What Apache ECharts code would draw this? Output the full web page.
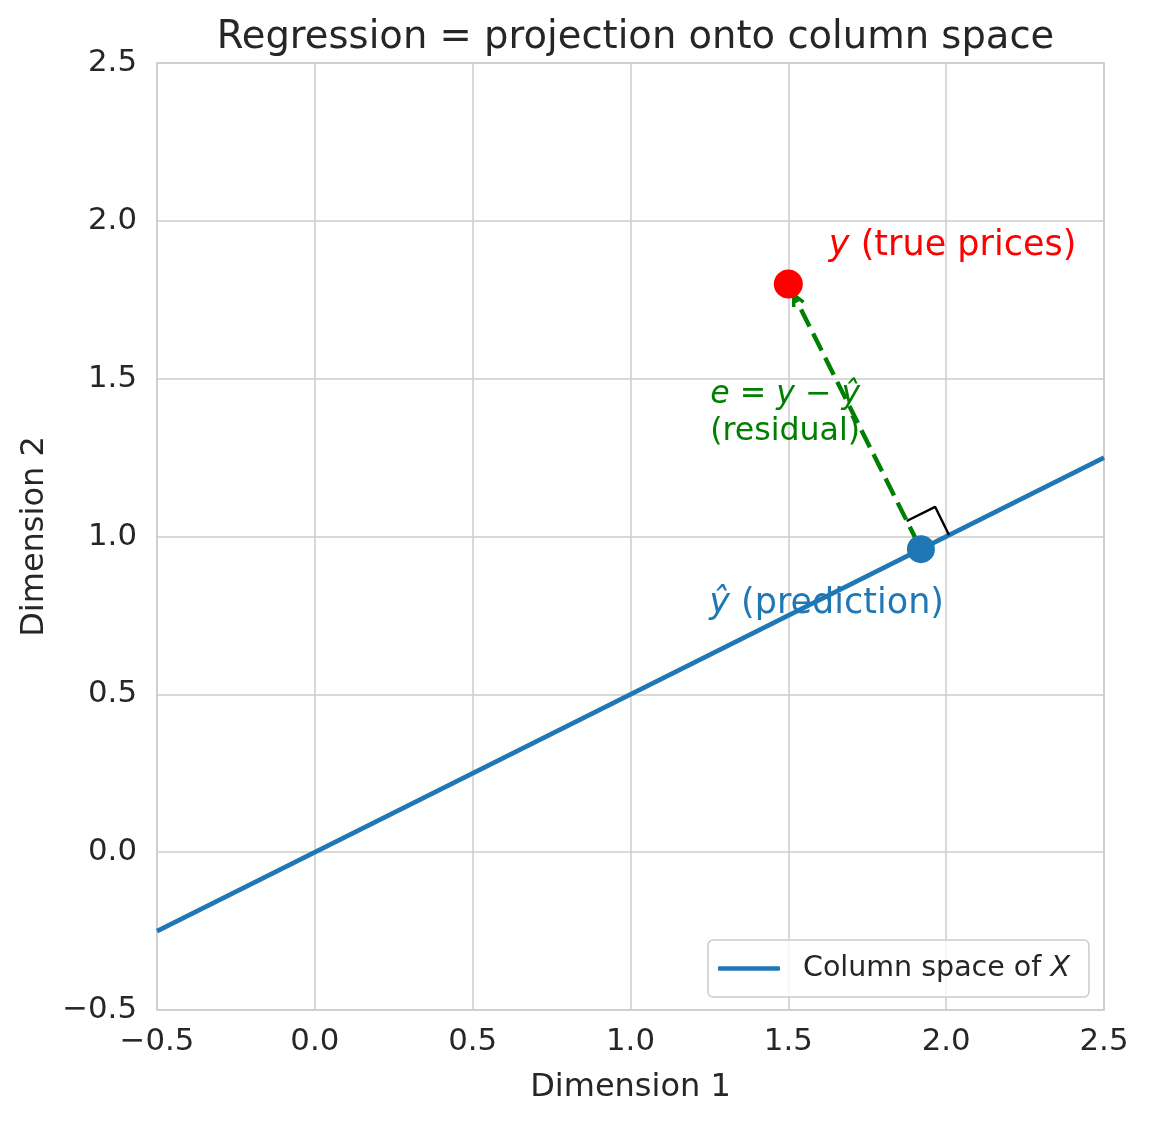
<!DOCTYPE html>
<html>
<head>
<meta charset="utf-8">
<script src="https://cdn.jsdelivr.net/npm/echarts@6/dist/echarts.min.js"></script>
<style>
html,body{margin:0;padding:0;background:#fff;}
#chart{width:1149px;height:1121px;}
</style>
</head>
<body>
<div id="chart"></div>
<script>
// ---- data ----
const axisMin = -0.5;
const axisMax = 2.5;
const tickInterval = 0.5;
const columnSpaceX = [-0.5, 2.5];
const columnSpaceY = [-0.25, 1.25];
const yTrue = [1.5, 1.8];
const yHat = [1.92, 0.96];
const rightAngleX = [1.875, 1.965, 2.009];
const rightAngleY = [1.049, 1.094, 1.005];
const labelTrueXY = [1.63, 1.92];
const labelResidualXY = [1.254, 1.39];
const labelPredXY = [1.251, 0.786];
const titleText = 'Regression = projection onto column space';
const xName = 'Dimension 1';
const yName = 'Dimension 2';
const legendName = 'Column space of X';

const FONT = 'DejaVu Sans';
const TXT = '#262626';
const fmtTick = v => (v < 0 ? '\u2212' : '') + Math.abs(v).toFixed(1);

const chart = echarts.init(document.getElementById('chart'), null, {renderer: 'canvas'});

const option = {
  animation: false,
  backgroundColor: '#ffffff',
  textStyle: {fontFamily: FONT},
  title: {
    text: titleText,
    left: 630.5,
    textAlign: 'center',
    top: 13,
    textStyle: {fontFamily: FONT, fontSize: 38.5, fontWeight: 'normal', color: TXT}
  },
  grid: {
    left: 157, right: 45, top: 63, bottom: 111,
    show: true, borderColor: '#cccccc', borderWidth: 1.5, backgroundColor: 'transparent'
  },
  legend: {
    data: [legendName],
    left: 708, top: 940,
    padding: [14, 19, 14, 10],
    backgroundColor: 'rgba(255,255,255,0.8)',
    borderColor: '#cccccc', borderWidth: 1.5, borderRadius: 5,
    icon: 'roundRect',
    itemWidth: 62, itemHeight: 4.5,
    formatter: () => '{a|Column space of }{b|X}',
    textStyle: {
      fontFamily: FONT, fontSize: 28.5, color: TXT,
      rich: {
        a: {fontFamily: FONT, fontSize: 28.5, color: TXT, padding: [0, 0, 0, 18]},
        b: {fontFamily: FONT, fontSize: 28.5, color: TXT, fontStyle: 'italic'}
      }
    }
  },
  xAxis: {
    type: 'value', min: axisMin, max: axisMax, interval: tickInterval,
    name: xName, nameLocation: 'middle', nameGap: 62,
    nameTextStyle: {fontFamily: FONT, fontSize: 32, color: TXT},
    axisLine: {show: false}, axisTick: {show: false},
    axisLabel: {fontFamily: FONT, fontSize: 30.8, color: TXT, margin: 16, formatter: fmtTick},
    splitLine: {show: true, lineStyle: {color: '#cccccc', width: 1.5}}
  },
  yAxis: {
    type: 'value', min: axisMin, max: axisMax, interval: tickInterval,
    name: yName, nameLocation: 'middle', nameGap: 106, nameRotate: 90,
    nameTextStyle: {fontFamily: FONT, fontSize: 32, color: TXT},
    axisLine: {show: false}, axisTick: {show: false},
    axisLabel: {fontFamily: FONT, fontSize: 30.8, color: TXT, margin: 20, formatter: fmtTick},
    splitLine: {show: true, lineStyle: {color: '#cccccc', width: 1.5}}
  },
  series: [
    {
      name: legendName,
      type: 'line',
      data: columnSpaceX.map((x, i) => [x, columnSpaceY[i]]),
      showSymbol: false, symbol: 'none',
      lineStyle: {color: '#1f77b4', width: 4.6},
      itemStyle: {color: '#1f77b4'},
      z: 2
    },
    {
      name: 'rightangle',
      type: 'line',
      data: rightAngleX.map((x, i) => [x, rightAngleY[i]]),
      symbol: 'none',
      lineStyle: {color: '#000000', width: 2.4},
      z: 3
    },
    {
      name: 'residual',
      type: 'custom',
      data: [[yHat[0], yHat[1], yTrue[0], yTrue[1]]],
      encode: {x: [0, 2], y: [1, 3]},
      z: 4,
      renderItem: function (params, api) {
        const p0 = api.coord([api.value(0), api.value(1)]);
        const p1 = api.coord([api.value(2), api.value(3)]);
        const dx = p1[0] - p0[0], dy = p1[1] - p0[1];
        const L = Math.hypot(dx, dy);
        const ux = dx / L, uy = dy / L;
        const nx = -uy, ny = ux;
        const start = [p0[0] + ux * 6, p0[1] + uy * 6];
        const tip = [p1[0] - ux * 12, p1[1] - uy * 12];
        const hl = 11, hw = 5.5;
        const back = [tip[0] - ux * hl, tip[1] - uy * hl];
        return {
          type: 'group',
          children: [
            {type: 'line', shape: {x1: start[0], y1: start[1], x2: tip[0], y2: tip[1]},
             style: {stroke: '#008000', lineWidth: 4.4, lineDash: [19, 8], fill: null}},
            {type: 'polyline', shape: {points: [[back[0] + nx * hw, back[1] + ny * hw], tip, [back[0] - nx * hw, back[1] - ny * hw]]},
             style: {stroke: '#008000', lineWidth: 3.4, fill: null}}
          ]
        };
      }
    },
    {
      name: 'ytrue',
      type: 'scatter',
      data: [yTrue],
      symbolSize: 29,
      itemStyle: {color: '#ff0000', opacity: 1},
      z: 5
    },
    {
      name: 'yhat',
      type: 'scatter',
      data: [yHat],
      symbolSize: 28,
      itemStyle: {color: '#1f77b4', opacity: 1},
      z: 5
    },
    {
      name: 'labels',
      type: 'scatter',
      symbolSize: 1,
      itemStyle: {color: 'rgba(0,0,0,0)', opacity: 1},
      z: 6,
      data: [
        {value: labelTrueXY, label: {
          formatter: '{i|y}{n| (true prices)}',
          rich: {
            i: {fontFamily: FONT, fontSize: 35, color: '#ff0000', fontStyle: 'italic'},
            n: {fontFamily: FONT, fontSize: 35, color: '#ff0000'}
          }}},
        {value: labelResidualXY, label: {
          formatter: '{i|e}{n| = }{i|y}{n| \u2212 }{i|\u0177}\n{n|(residual)}',
          lineHeight: 37,
          rich: {
            i: {fontFamily: FONT, fontSize: 31.6, color: '#008000', fontStyle: 'italic', lineHeight: 37},
            n: {fontFamily: FONT, fontSize: 31.6, color: '#008000', lineHeight: 37}
          }}},
        {value: labelPredXY, label: {
          formatter: '{i|\u0177}{n| (prediction)}',
          rich: {
            i: {fontFamily: FONT, fontSize: 35, color: '#1f77b4', fontStyle: 'italic'},
            n: {fontFamily: FONT, fontSize: 35, color: '#1f77b4'}
          }}}
      ],
      label: {
        show: true,
        opacity: 1,
        position: [0, 0],
        align: 'left',
        verticalAlign: 'middle'
      }
    }
  ]
};

chart.setOption(option);
</script>
</body>
</html>
